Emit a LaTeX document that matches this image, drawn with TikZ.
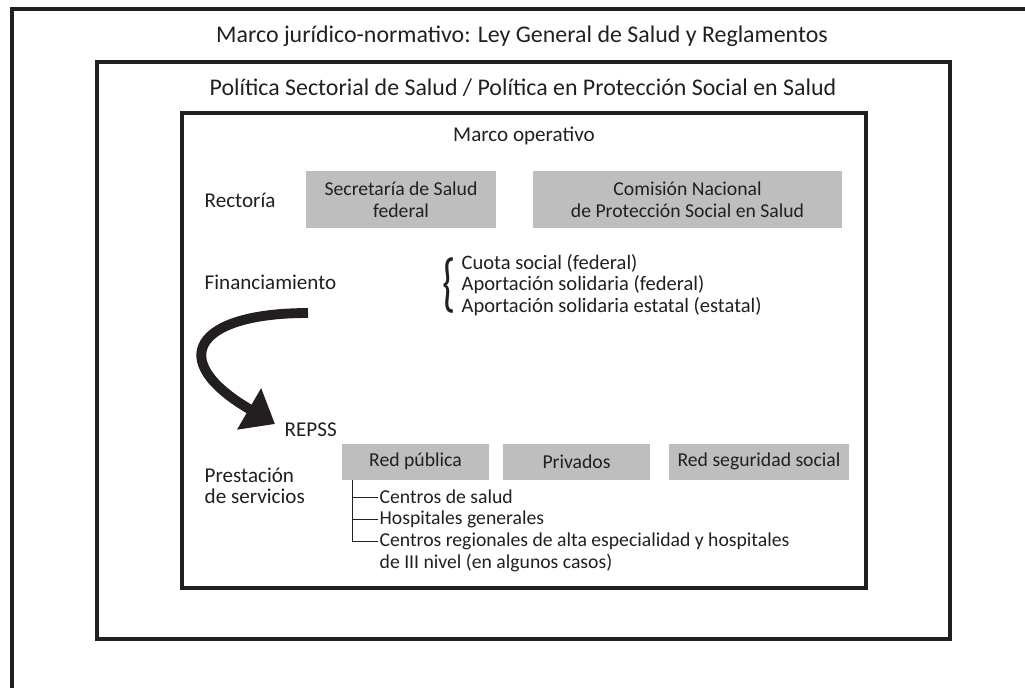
\documentclass[tikz,border=0pt]{standalone}
\usepackage{fontspec}
\setmainfont{Carlito}
\usetikzlibrary{arrows.meta,positioning}

\definecolor{linecol}{RGB}{35,31,32}
\definecolor{boxgray}{RGB}{190,190,190}
\newcommand{\px}{0.025cm}
\newcommand{\txtsize}{\fontsize{14}{15.3}\selectfont}
\newcommand{\lblsize}{\fontsize{15}{15.3}\selectfont}
\newcommand{\ttlsize}{\fontsize{17}{20}\selectfont}

\tikzset{
    frame/.style={draw=linecol, line width=2.2pt},
    gbox/.style 2 args={fill=boxgray, minimum width=#1*\px, minimum height=#2*\px,
        align=center, inner sep=0pt, text=linecol},
    lbl/.style={anchor=west, inner sep=1pt, text=linecol, font=\lblsize},
    item/.style={anchor=west, inner sep=1pt, text=linecol},
    ttl/.style={text=linecol, font=\ttlsize},
    twig/.style={draw=linecol, line width=0.6pt},
    bigarrow/.style={draw=linecol, line width=7pt,
        -{Triangle[length=0.75cm, width=1.15cm]}},
}

\begin{document}
\begin{tikzpicture}[x=\px, y=-\px, every node/.style={font=\txtsize}]
    \useasboundingbox (0,0) rectangle (1025,687);

    % marcos
    \draw[frame] (1040,9) -- (12,9) -- (12,700);
    \draw[frame] (97,62) rectangle (950,639);
    \draw[frame] (182,113) rectangle (866,588);

    \node[ttl] at (522,36)(juridico){Marco jurídico-normativo: Ley General de Salud y Reglamentos};
    \node[ttl] at (523,88)(politica){Política Sectorial de Salud / Política en Protección Social en Salud};
    \node[lbl, anchor=center] at (524,136)(operativo){Marco operativo};

    % rectoria
    \node[lbl] at (203,200)(rectoria){Rectoría};
    \node[gbox={190}{57}] at (401,199.5)(ssa){Secretaría de Salud\\federal};
    \node[gbox={309}{57}] at (687.5,199.5)(cnpss){Comisión Nacional\\de Protección Social en Salud};

    % financiamiento
    \node[lbl] at (203,282)(financ){Financiamiento};
    \node[text=linecol, inner sep=0pt, xscale=0.65, font=\fontsize{46}{46}\selectfont] at (449,286)(llave){\{};
    \node[lbl, align=left, font=\fontsize{14.6}{15.5}\selectfont] at (460,285)(fuentes){Cuota social (federal)\\
        Aportación solidaria (federal)\\
        Aportación solidaria estatal (estatal)};

    \coordinate (arrstart) at (308,313);
    \coordinate (arrtip) at (275,424);
    \draw[bigarrow] (arrstart) .. controls (195,313) and (165,360) .. (arrtip);
    \node[lbl] at (283,430)(repss){REPSS};

    % prestacion
    \node[lbl, align=left] at (203,486)(prestacion){Prestación\\de servicios};
    \node[gbox={147}{36}] at (415.5,461.5)(redpub){Red pública};
    \node[gbox={147}{36}] at (576.5,461.5)(privados){Privados};
    \node[gbox={180}{36}] at (759,461.5)(redss){Red seguridad social};

    \coordinate (raiz) at (352,479.5);
    \node[item] at (378,497)(csalud){Centros de salud};
    \node[item] at (378,519)(hosp){Hospitales generales};
    \node[item] at (378,541)(cresp){Centros regionales de alta especialidad y hospitales};
    \node[item] at (378,563)(nivel){de III nivel (en algunos casos)};

    \path[twig]
        (raiz) |- (csalud.west)
        (raiz) |- (hosp.west)
        (raiz) |- (cresp.west)
        ;
\end{tikzpicture}
\end{document}
